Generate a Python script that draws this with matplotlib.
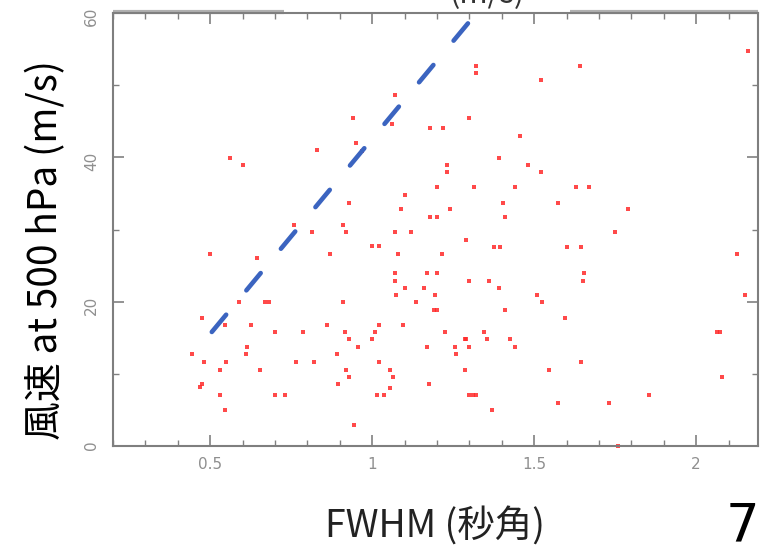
import matplotlib
matplotlib.use("Agg")
import matplotlib.pyplot as plt
from matplotlib.ticker import MultipleLocator, FormatStrFormatter

plt.rcParams['font.family'] = ['Noto Sans CJK JP', 'DejaVu Sans']

# seeing (FWHM, arcsec) vs wind speed at 500 hPa (m/s)
fwhm = [1.07, 0.94, 1.06, 1.18, 1.22, 1.30, 0.95, 0.97, 0.83, 0.56,
        0.60, 1.23, 1.23, 1.20, 1.10, 0.93, 1.09, 1.18, 1.20, 1.24,
        0.76, 0.91, 0.815, 0.92, 1.07, 1.12, 1.29, 1.32, 1.32, 1.64,
        2.16, 1.52, 1.455, 1.39, 1.48, 1.52, 1.315, 1.44, 1.63, 1.67,
        1.405, 1.575, 1.41, 1.79, 1.75, 1.00, 1.02, 0.50, 0.645, 0.87,
        1.08, 1.215, 1.07, 1.17, 1.20, 1.07, 1.30, 1.10, 1.16, 1.075,
        1.195, 0.59, 0.67, 0.68, 0.91, 1.135, 1.19, 1.20, 0.475, 0.545,
        0.625, 0.86, 1.02, 1.095, 0.70, 0.785, 0.915, 1.01, 1.225, 0.93,
        1.00, 1.285, 1.29, 0.615, 0.955, 1.17, 1.255, 1.30, 0.445, 0.61,
        0.89, 1.26, 0.48, 0.55, 0.765, 0.82, 1.02, 0.53, 0.655, 0.92,
        1.055, 1.285, 0.93, 1.065, 0.468, 0.476, 0.895, 1.175, 1.055, 0.53,
        0.70, 0.73, 1.015, 1.035, 1.30, 1.31, 1.32, 0.545, 0.945, 1.375,
        1.395, 1.60, 1.645, 2.125, 1.36, 1.39, 1.655, 1.65, 1.51, 1.525,
        2.15, 1.41, 1.595, 1.345, 1.355, 1.425, 1.44, 2.065, 2.075, 1.545,
        1.645, 2.08, 1.855, 1.575, 1.73, 1.37, 1.76]
wind = [48.7, 45.5, 44.6, 44.1, 44.1, 45.5, 42.0, 40.9, 41.0, 39.9,
        38.9, 38.9, 37.9, 35.9, 34.8, 33.7, 32.8, 31.8, 31.8, 32.8,
        30.6, 30.6, 29.7, 29.7, 29.7, 29.7, 28.6, 52.7, 51.7, 52.7,
        54.8, 50.7, 43.0, 39.9, 38.9, 37.9, 35.9, 35.9, 35.9, 35.9,
        33.7, 33.7, 31.8, 32.8, 29.7, 27.7, 27.7, 26.6, 26.0, 26.6,
        26.6, 26.6, 24.0, 24.0, 24.0, 22.9, 22.9, 21.9, 21.9, 20.9,
        20.9, 19.9, 19.9, 19.9, 19.9, 19.9, 18.8, 18.8, 17.8, 16.8,
        16.8, 16.8, 16.8, 16.8, 15.8, 15.8, 15.8, 15.8, 15.8, 14.8,
        14.8, 14.8, 14.8, 13.7, 13.7, 13.7, 13.7, 13.7, 12.7, 12.7,
        12.7, 12.7, 11.7, 11.7, 11.7, 11.7, 11.7, 10.6, 10.6, 10.6,
        10.6, 10.6, 9.6, 9.6, 8.2, 8.6, 8.6, 8.6, 8.1, 7.1,
        7.1, 7.1, 7.1, 7.1, 7.1, 7.1, 7.1, 5.0, 2.9, 27.6,
        27.6, 27.6, 27.6, 26.6, 22.9, 21.9, 24.0, 22.9, 20.9, 19.9,
        20.9, 18.8, 17.8, 15.8, 14.8, 14.8, 13.7, 15.8, 15.8, 10.6,
        11.7, 9.6, 7.1, 6.0, 6.0, 5.0, 0.0]

# dashed guide line
line_x = [0.505, 1.30]
line_y = [15.8, 58.8]

fig = plt.figure(figsize=(7.6, 5.51), dpi=100)
ax = fig.add_axes([113 / 760, 1 - 446 / 551, (757.7 - 113) / 760, (446 - 13) / 551])

ax.plot(fwhm, wind, 's', color='#ff2a2a', ms=2.9, mew=0, alpha=0.85, clip_on=False)
ax.plot(line_x, line_y, color='#3b64c0', lw=3.3, dash_capstyle='round',
        linestyle=(0, (4.9, 6.9)))

ax.set_xlim(0.2, 2.19)
ax.set_ylim(0, 60)

ax.xaxis.set_major_locator(MultipleLocator(0.5))
ax.xaxis.set_minor_locator(MultipleLocator(0.1))
ax.xaxis.set_major_formatter(FormatStrFormatter('%g'))
ax.yaxis.set_major_locator(MultipleLocator(20))
ax.yaxis.set_minor_locator(MultipleLocator(10))

for s in ax.spines.values():
	s.set_color('#7f7f7f')
	s.set_linewidth(1.5)

# greyish thicker bits on the top edge, left over from the cut-off title box
for x0, x1 in [(0.0, 0.266), (0.709, 1.0)]:
	ax.plot([x0, x1], [1.002, 1.002], transform=ax.transAxes, color='#b0b0b0',
	        lw=3, clip_on=False, solid_capstyle='butt')

ax.tick_params(which='major', direction='in', length=8, width=1.2, color='#808080',
               top=True, right=True, labelsize=11, labelcolor='#8f8f8f')
ax.tick_params(which='minor', direction='in', length=4, width=1.0, color='#808080',
               top=True, right=True)
ax.tick_params(axis='x', pad=8)
ax.tick_params(axis='y', labelrotation=90, pad=10)
for lab in ax.get_xticklabels() + ax.get_yticklabels():
	lab.set_family('DejaVu Sans')

ax.set_xlabel('FWHM (秒角)', fontsize=27, color='#222222', va='center')
ax.xaxis.set_label_coords(0.5, -0.187)
ax.set_ylabel('風速 at 500 hPa (m/s)', fontsize=28, color='black', va='center')
ax.yaxis.set_label_coords(-0.104, 0.453)

# clipped title at the top and the page number
fig.text(487 / 760, 1 - 3 / 551, '(m/s)', fontsize=22, color='#333333',
         ha='center', va='baseline')
fig.text(742 / 760, 1 - 526 / 551, '7', fontsize=38, color='black',
         ha='center', va='center', family='DejaVu Sans')

plt.savefig('out.png', dpi=100)
